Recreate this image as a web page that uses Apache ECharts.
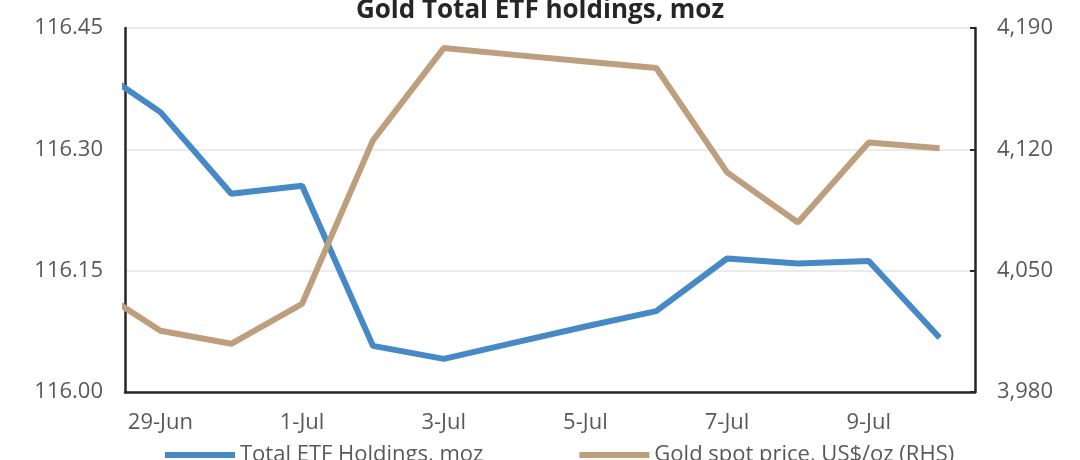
<!DOCTYPE html>
<html>
<head>
<meta charset="utf-8">
<title>Gold Total ETF holdings, moz</title>
<script src="https://cdn.jsdelivr.net/npm/echarts@6/dist/echarts.min.js"></script>
<style>
  html, body { margin: 0; padding: 0; background: #fff; }
  #main { width: 1080px; height: 460px; }
</style>
</head>
<body>
<div id="main"></div>
<script>
// dates, the first one (28-Jun) sits just outside the plot and gets clipped
const dates = ['28-Jun', '29-Jun', '30-Jun', '1-Jul', '2-Jul', '3-Jul', '4-Jul',
               '5-Jul', '6-Jul', '7-Jul', '8-Jul', '9-Jul', '10-Jul'];
// ETF holdings, moz (left axis)
const holdings = [116.406, 116.346, 116.245, 116.255, 116.057, 116.041, 116.061,
                  116.081, 116.100, 116.165, 116.159, 116.162, 116.067];
// gold spot, US$/oz (right axis)
const spot = [4041.9, 4015.3, 4007.8, 4030.9, 4125.2, 4178.4, 4174.5,
              4170.7, 4166.9, 4106.7, 4077.8, 4124.0, 4120.6];
// labelled dates (every other day)
const tickDates = ['29-Jun', '1-Jul', '3-Jul', '5-Jul', '7-Jul', '9-Jul'];

// x position = day index, 29-Jun = 0
const xOf = d => dates.indexOf(d) - 1;

function initChart() {
    const chart = echarts.init(document.getElementById('main'));
    const labelStyle = { color: '#595959', fontSize: 22, fontFamily: 'Open Sans' };
    chart.setOption({
        animation: false,
        title: {
            text: 'Gold Total ETF holdings, moz',
            left: 'center',
            top: -7,
            textStyle: { color: '#262626', fontSize: 26, fontWeight: 'bold', fontFamily: 'Open Sans' }
        },
        grid: { left: 125, right: 105, top: 28, bottom: 68 },
        legend: {
            bottom: -11,
            left: 160,
            itemWidth: 70,
            itemHeight: 6,
            itemGap: 96,
            icon: 'rect',
            textStyle: { color: '#595959', fontSize: 22, fontFamily: 'Open Sans' },
            data: ['Total ETF Holdings, moz', 'Gold spot price, US$/oz (RHS)']
        },
        xAxis: {
            type: 'value',
            min: -0.5,
            max: 11.5,
            axisLine: { show: true, onZero: false, lineStyle: { color: '#262626', width: 2.5 } },
            axisTick: { show: false },
            splitLine: { show: false },
            axisLabel: Object.assign({
                customValues: tickDates.map(xOf),
                formatter: v => dates[v + 1],
                margin: 20
            }, labelStyle)
        },
        yAxis: [{
            type: 'value',
            min: 116.00,
            max: 116.45,
            interval: 0.15,
            axisLine: { show: true, onZero: false, lineStyle: { color: '#262626', width: 2.5 } },
            axisTick: { show: false },
            splitLine: { lineStyle: { color: '#e4e4e4', width: 1.5 } },
            axisLabel: Object.assign({ formatter: v => v.toFixed(2), margin: 22 }, labelStyle)
        }, {
            type: 'value',
            min: 3980,
            max: 4190,
            interval: 70,
            position: 'right',
            axisLine: { show: true, onZero: false, lineStyle: { color: '#262626', width: 2.5 } },
            axisTick: { show: true, inside: true, length: 5, lineStyle: { color: '#262626', width: 2 } },
            splitLine: { show: false },
            axisLabel: Object.assign({ formatter: v => v.toLocaleString('en-US'), margin: 22 }, labelStyle)
        }],
        series: [{
            name: 'Total ETF Holdings, moz',
            type: 'line',
            yAxisIndex: 0,
            symbol: 'none',
            clip: true,
            color: '#4689c6',
            lineStyle: { width: 6, color: '#4689c6' },
            data: dates.map((d, i) => [xOf(d), holdings[i]])
        }, {
            name: 'Gold spot price, US$/oz (RHS)',
            type: 'line',
            yAxisIndex: 1,
            symbol: 'none',
            clip: true,
            color: '#bd9f7e',
            lineStyle: { width: 6, color: '#bd9f7e' },
            data: dates.map((d, i) => [xOf(d), spot[i]])
        }]
    });
}

document.addEventListener('DOMContentLoaded', initChart);
</script>
</body>
</html>
